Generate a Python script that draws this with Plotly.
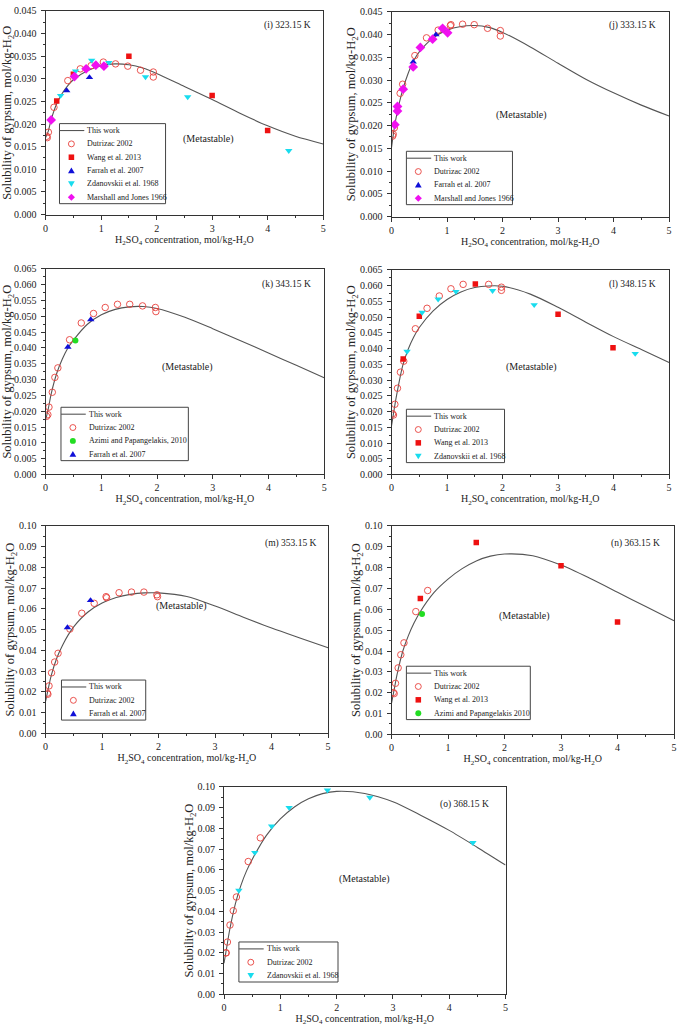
import plotly.graph_objects as go

# ---------------- data ----------------
curve_x = [0, 0.05, 0.1, 0.2, 0.3, 0.4, 0.5, 0.75, 1.0, 1.25, 1.5, 1.75, 2.0, 2.5, 3.0, 3.5, 4.0, 4.5, 5.0]
curve_i = [0.0170, 0.0185, 0.0210, 0.0245, 0.0268, 0.0285, 0.0298, 0.0318, 0.0329, 0.0333, 0.0331, 0.0324, 0.0312, 0.0283, 0.0254, 0.0224, 0.0196, 0.0173, 0.0156]
curve_j = [0.0152, 0.0195, 0.0228, 0.0278, 0.0315, 0.0343, 0.0362, 0.0393, 0.0410, 0.0418, 0.0420, 0.0416, 0.0405, 0.0373, 0.0337, 0.0302, 0.0272, 0.0245, 0.0221]
curve_k = [0.0172, 0.0210, 0.0255, 0.0320, 0.0365, 0.0400, 0.0425, 0.0475, 0.0505, 0.0522, 0.0530, 0.0531, 0.0525, 0.0497, 0.0461, 0.0423, 0.0384, 0.0345, 0.0306]
curve_l = [0.0155, 0.0210, 0.0260, 0.0345, 0.0398, 0.0437, 0.0467, 0.0520, 0.0556, 0.0580, 0.0594, 0.0599, 0.0598, 0.0573, 0.0531, 0.0484, 0.0438, 0.0397, 0.0356]
curve_m = [0.0155, 0.0220, 0.0280, 0.0365, 0.0425, 0.0475, 0.0515, 0.0585, 0.0628, 0.0655, 0.0670, 0.0677, 0.0677, 0.0660, 0.0614, 0.0560, 0.0508, 0.0460, 0.0413]
curve_n = [0.0150, 0.0220, 0.0290, 0.0400, 0.0475, 0.0535, 0.0585, 0.0680, 0.0745, 0.0795, 0.0832, 0.0855, 0.0865, 0.0857, 0.0812, 0.0750, 0.0682, 0.0613, 0.0545]
curve_o = [0.0150, 0.0230, 0.0310, 0.0435, 0.0525, 0.0595, 0.0650, 0.0765, 0.0845, 0.0903, 0.0942, 0.0967, 0.0978, 0.0968, 0.0928, 0.0862, 0.0790, 0.0708, 0.0623]

# (i) 323.15 K
dutrizac_i_x = [0.02, 0.03, 0.05, 0.15, 0.40, 0.625, 0.82, 1.04, 1.26, 1.48, 1.71, 1.94, 1.94]
dutrizac_i_y = [0.0173, 0.0170, 0.0182, 0.0237, 0.0296, 0.0322, 0.0329, 0.0337, 0.0333, 0.0328, 0.0319, 0.0315, 0.0304]
wang_i_x = [0.20, 0.50, 1.50, 3.00, 4.00]
wang_i_y = [0.0251, 0.0310, 0.0350, 0.0263, 0.0186]
farrah_i_x = [0.38, 0.79]
farrah_i_y = [0.0274, 0.0303]
zdan_i_x = [0.27, 0.54, 0.83, 1.14, 1.80, 2.56, 4.38]
zdan_i_y = [0.0263, 0.0317, 0.0341, 0.0336, 0.0304, 0.0260, 0.0141]
marsh_i_x = [0.10, 0.52, 0.73, 0.905, 1.05]
marsh_i_y = [0.0209, 0.0305, 0.0322, 0.0330, 0.0328]

# (j) 333.15 K
dutrizac_j_x = [0.02, 0.03, 0.05, 0.155, 0.20, 0.42, 0.63, 0.84, 1.06, 1.07, 1.28, 1.49, 1.73, 1.96, 1.96]
dutrizac_j_y = [0.0177, 0.0181, 0.0195, 0.0271, 0.0291, 0.0354, 0.0393, 0.0410, 0.0420, 0.0422, 0.0423, 0.0422, 0.0414, 0.0409, 0.0397]
farrah_j_x = [0.39, 0.80]
farrah_j_y = [0.0340, 0.0400]
marsh_j_x = [0.06, 0.107, 0.107, 0.21, 0.39, 0.52, 0.74, 0.92, 1.01]
marsh_j_y = [0.0202, 0.0242, 0.0232, 0.0280, 0.0329, 0.0372, 0.0390, 0.0414, 0.0404]

# (k) 343.15 K
dutrizac_k_x = [0.018, 0.04, 0.06, 0.12, 0.166, 0.22, 0.43, 0.64, 0.86, 1.07, 1.29, 1.51, 1.74, 1.97, 1.98]
dutrizac_k_y = [0.0184, 0.0189, 0.0213, 0.0260, 0.0307, 0.0337, 0.0426, 0.0479, 0.0509, 0.0528, 0.0538, 0.0538, 0.0533, 0.0528, 0.0515]
azimi_k_x = [0.535]
azimi_k_y = [0.0424]
farrah_k_x = [0.40, 0.81]
farrah_k_y = [0.0403, 0.0490]

# (l) 348.15 K
dutrizac_l_x = [0.018, 0.035, 0.06, 0.107, 0.16, 0.22, 0.43, 0.64, 0.86, 1.07, 1.29, 1.75, 1.98, 1.98]
dutrizac_l_y = [0.0193, 0.0189, 0.0223, 0.0274, 0.0325, 0.0360, 0.0463, 0.0528, 0.0567, 0.0590, 0.0604, 0.0604, 0.0595, 0.0585]
wang_l_x = [0.21, 0.50, 1.51, 3.00, 3.99]
wang_l_y = [0.0367, 0.0503, 0.0605, 0.0509, 0.0403]
zdan_l_x = [0.28, 0.55, 0.84, 1.16, 1.82, 2.57, 4.39]
zdan_l_y = [0.0391, 0.0515, 0.0557, 0.0581, 0.0584, 0.0539, 0.0384]

# (m) 353.15 K
dutrizac_m_x = [0.03, 0.04, 0.06, 0.105, 0.16, 0.22, 0.43, 0.64, 0.86, 1.07, 1.08, 1.30, 1.52, 1.74, 1.97, 1.98]
dutrizac_m_y = [0.0194, 0.0189, 0.0229, 0.0292, 0.0344, 0.0386, 0.0503, 0.0579, 0.0627, 0.0659, 0.0654, 0.0678, 0.0681, 0.0681, 0.0668, 0.0659]
farrah_m_x = [0.386, 0.795]
farrah_m_y = [0.0510, 0.0641]

# (n) 363.15 K
dutrizac_n_x = [0.03, 0.047, 0.07, 0.117, 0.164, 0.22, 0.43, 0.64]
dutrizac_n_y = [0.0201, 0.0196, 0.0245, 0.0319, 0.0382, 0.0439, 0.0589, 0.0690]
wang_n_x = [0.51, 1.50, 3.00, 4.00]
wang_n_y = [0.0652, 0.0920, 0.0809, 0.0539]
azimi_n_x = [0.54]
azimi_n_y = [0.0577]

# (o) 368.15 K
dutrizac_o_x = [0.03, 0.04, 0.06, 0.106, 0.164, 0.22, 0.43, 0.645]
dutrizac_o_y = [0.0200, 0.0200, 0.0252, 0.0334, 0.0403, 0.0469, 0.0640, 0.0754]
zdan_o_x = [0.264, 0.546, 0.845, 1.156, 1.837, 2.59, 4.42]
zdan_o_y = [0.0501, 0.0683, 0.0810, 0.0900, 0.0984, 0.0949, 0.0731]

panel_titles = ["(i) 323.15 K", "(j) 333.15 K", "(k) 343.15 K", "(l) 348.15 K",
                "(m) 353.15 K", "(n) 363.15 K", "(o) 368.15 K"]

# ---------------- styles ----------------
FONT = "Liberation Serif"
W, H = 679, 1031
RED_O = "#e8413c"
STY = {
    "Dutrizac 2002": dict(symbol="circle-open", color=RED_O, size=6.5),
    "Wang et al. 2013": dict(symbol="square", color="#ee1111", size=5.5),
    "Farrah et al. 2007": dict(symbol="triangle-up", color="#1010d8", size=6.5),
    "Zdanovskii et al. 1968": dict(symbol="triangle-down", color="#18dcee", size=6.5),
    "Marshall and Jones 1966": dict(symbol="diamond", color="#f010f0", size=7.5),
    "Azimi and Papangelakis, 2010": dict(symbol="circle", color="#22dd22", size=6),
    "Azimi and Papangelakis 2010": dict(symbol="circle", color="#22dd22", size=6),
}

# pixel boxes: (left, right, top, bottom)
boxes = [(43, 323, 5, 211), (392, 672, 6, 213), (43, 324, 266, 474), (392, 672, 267, 474),
         (43, 328, 526, 736), (392, 677, 526, 737), (223, 507, 790, 1000)]
ymax = [0.045, 0.045, 0.065, 0.065, 0.10, 0.10, 0.10]
ydt = [0.005, 0.005, 0.005, 0.005, 0.01, 0.01, 0.01]
yfmt = [".3f", ".3f", ".3f", ".3f", ".2f", ".2f", ".2f"]
curves = [curve_i, curve_j, curve_k, curve_l, curve_m, curve_n, curve_o]
series = [
    [("Dutrizac 2002", dutrizac_i_x, dutrizac_i_y), ("Wang et al. 2013", wang_i_x, wang_i_y),
     ("Farrah et al. 2007", farrah_i_x, farrah_i_y), ("Zdanovskii et al. 1968", zdan_i_x, zdan_i_y),
     ("Marshall and Jones 1966", marsh_i_x, marsh_i_y)],
    [("Dutrizac 2002", dutrizac_j_x, dutrizac_j_y), ("Farrah et al. 2007", farrah_j_x, farrah_j_y),
     ("Marshall and Jones 1966", marsh_j_x, marsh_j_y)],
    [("Dutrizac 2002", dutrizac_k_x, dutrizac_k_y), ("Azimi and Papangelakis, 2010", azimi_k_x, azimi_k_y),
     ("Farrah et al. 2007", farrah_k_x, farrah_k_y)],
    [("Dutrizac 2002", dutrizac_l_x, dutrizac_l_y), ("Wang et al. 2013", wang_l_x, wang_l_y),
     ("Zdanovskii et al. 1968", zdan_l_x, zdan_l_y)],
    [("Dutrizac 2002", dutrizac_m_x, dutrizac_m_y), ("Farrah et al. 2007", farrah_m_x, farrah_m_y)],
    [("Dutrizac 2002", dutrizac_n_x, dutrizac_n_y), ("Wang et al. 2013", wang_n_x, wang_n_y),
     ("Azimi and Papangelakis 2010", azimi_n_x, azimi_n_y)],
    [("Dutrizac 2002", dutrizac_o_x, dutrizac_o_y), ("Zdanovskii et al. 1968", zdan_o_x, zdan_o_y)],
]
# legend boxes in pixels: (left, top, right)
legbox = [(57, 119, 164), (407, 147, 514), (58.5, 406, 187), (407, 408, 506),
          (59, 682, 144), (407, 668, 532), (238, 947, 338)]
ROW = 13.5
# annotation positions as axis-domain fractions
lab_pos = [(0.871, 0.927), (0.868, 0.932), (0.865, 0.923), (0.868, 0.928), (0.870, 0.914), (0.863, 0.915), (0.856, 0.914)]
meta_pos = [(0.586, 0.369), (0.468, 0.498), (0.509, 0.524), (0.504, 0.527), (0.481, 0.614), (0.470, 0.569), (0.500, 0.557)]


def px(v):
    return v / W


def py(v):
    return 1 - v / H


def legend_symbol(name, cx, cy):
    st = STY[name]
    sym, col = st["symbol"], st["color"]
    if sym == "circle-open":
        r = 3.0
        return dict(type="circle", xref="paper", yref="paper", x0=px(cx - r), x1=px(cx + r),
                    y0=py(cy + r), y1=py(cy - r), line=dict(color=col, width=0.9), fillcolor="rgba(0,0,0,0)")
    if sym == "circle":
        r = 3.0
        return dict(type="circle", xref="paper", yref="paper", x0=px(cx - r), x1=px(cx + r),
                    y0=py(cy + r), y1=py(cy - r), line=dict(color=col, width=0), fillcolor=col)
    if sym == "square":
        r = 2.8
        return dict(type="rect", xref="paper", yref="paper", x0=px(cx - r), x1=px(cx + r),
                    y0=py(cy + r), y1=py(cy - r), line=dict(color=col, width=0), fillcolor=col)
    if sym == "triangle-up":
        pts = [(cx - 3.4, cy + 2.6), (cx + 3.4, cy + 2.6), (cx, cy - 3.2)]
    elif sym == "triangle-down":
        pts = [(cx - 3.4, cy - 2.6), (cx + 3.4, cy - 2.6), (cx, cy + 3.2)]
    else:  # diamond
        pts = [(cx - 3.6, cy), (cx, cy - 3.6), (cx + 3.6, cy), (cx, cy + 3.6)]
    path = "M " + " L ".join(f"{px(a):.5f},{py(b):.5f}" for a, b in pts) + " Z"
    return dict(type="path", xref="paper", yref="paper", path=path,
                line=dict(color=col, width=0), fillcolor=col)


fig = go.Figure()
layout = dict(width=W, height=H, margin=dict(l=0, r=0, t=0, b=0),
              paper_bgcolor="white", plot_bgcolor="white", showlegend=False,
              font=dict(family=FONT, size=10, color="#222"), annotations=[], shapes=[])

for p in range(7):
    suf = "" if p == 0 else str(p + 1)
    xa, ya = "x" + suf, "y" + suf
    L, R, T, B = boxes[p]
    fig.add_trace(go.Scatter(x=curve_x, y=curves[p], mode="lines", name="This work",
                             line=dict(color="#555555", width=1.1, shape="spline", smoothing=0.8),
                             xaxis=xa, yaxis=ya))
    for name, xs, ys in series[p]:
        st = STY[name]
        mk = dict(symbol=st["symbol"], color=st["color"], size=st["size"])
        mk["line"] = dict(width=0.9, color=st["color"]) if st["symbol"] == "circle-open" else dict(width=0)
        fig.add_trace(go.Scatter(x=xs, y=ys, mode="markers", name=name, marker=mk,
                                 xaxis=xa, yaxis=ya))
    axcommon = dict(showline=True, linecolor="#333", linewidth=1, mirror=True, showgrid=False,
                    zeroline=False, ticks="outside", ticklen=4, tickwidth=1, tickcolor="#333",
                    ticklabeloverflow="allow",
                    tickfont=dict(family=FONT, size=10, color="#222"))
    layout["xaxis" + suf] = dict(axcommon, domain=[L / W, R / W], range=[0, 5], dtick=1, tick0=0,
                                 anchor=ya,
                                 minor=dict(dtick=0.5, ticks="outside", ticklen=2, tickcolor="#333"),
                                 title=dict(text="H<sub>2</sub>SO<sub>4</sub> concentration, mol/kg-H<sub>2</sub>O",
                                            font=dict(family=FONT, size=10), standoff=2))
    layout["yaxis" + suf] = dict(axcommon, domain=[1 - B / H, 1 - T / H], range=[0, ymax[p]],
                                 dtick=ydt[p], tick0=0, tickformat=yfmt[p], anchor=xa,
                                 ticklabelstandoff=2,
                                 minor=dict(dtick=ydt[p] / 2, ticks="outside", ticklen=2, tickcolor="#333"),
                                 title=dict(text="Solubility of gypsum, mol/kg-H<sub>2</sub>O",
                                            font=dict(family=FONT, size=12.5), standoff=0))
    # legend (drawn in layout: box, samples, labels)
    lL, lT, lR = legbox[p]
    names = ["This work"] + [s[0] for s in series[p]]
    lB = lT + ROW * len(names)
    layout["shapes"].append(dict(type="rect", xref="paper", yref="paper", x0=px(lL), x1=px(lR),
                                 y0=py(lB), y1=py(lT), line=dict(color="#444", width=1),
                                 fillcolor="white", layer="above"))
    for k, nm in enumerate(names):
        ry = lT + 7 + ROW * k
        if nm == "This work":
            layout["shapes"].append(dict(type="line", xref="paper", yref="paper", x0=px(lL), x1=px(lL + 25),
                                         y0=py(ry), y1=py(ry), line=dict(color="#555", width=1.1),
                                         layer="above"))
        else:
            sh = legend_symbol(nm, lL + 12, ry)
            sh["layer"] = "above"
            layout["shapes"].append(sh)
        layout["annotations"].append(dict(text=nm, xref="paper", yref="paper", x=px(lL + 26), y=py(ry),
                                          xanchor="left", yanchor="middle", showarrow=False,
                                          font=dict(family=FONT, size=8, color="#222")))
    layout["annotations"].append(dict(text=panel_titles[p], xref=xa + " domain", yref=ya + " domain",
                                      x=lab_pos[p][0], y=lab_pos[p][1], showarrow=False,
                                      xanchor="center", yanchor="middle",
                                      font=dict(family=FONT, size=9.5)))
    layout["annotations"].append(dict(text="(Metastable)", xref=xa + " domain", yref=ya + " domain",
                                      x=meta_pos[p][0], y=meta_pos[p][1], showarrow=False,
                                      xanchor="center", yanchor="middle",
                                      font=dict(family=FONT, size=10)))

fig.update_layout(**layout)
fig.write_html("out.html", config={"displayModeBar": False},
               post_script="document.body.style.margin='0';document.body.style.padding='0';"
                           "document.documentElement.style.overflow='hidden';")
